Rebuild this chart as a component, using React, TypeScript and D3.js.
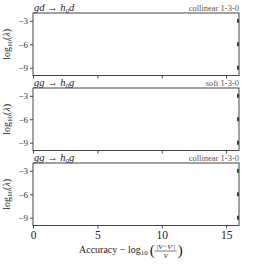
import React, { useRef, useEffect } from 'react';
import * as d3 from 'd3';

// panel titles (left: process, right: limit)
const processHead = ['gd → h', 'gg → h', 'gg → h'];
const processTail = ['d', 'g', 'g'];
const limitLabels = ['collinear 1-3-0', 'soft 1-3-0', 'collinear 1-3-0'];

// points: accuracy vs log10(lambda), same for each panel
const accuracy = [16, 16, 16];
const logLambda = [-3, -6, -9];

const xTicks = [0, 5, 10, 15];
const yTicks = [-3, -6, -9];

const App = () => {
  const svgRef = useRef<SVGSVGElement>(null);
  const width = 266;
  const height = 266;
  const margin = { left: 33, right: 27 };
  const panelTops = [13, 88, 163];
  const panelH = 62.5;
  const font = "'Liberation Serif', 'DejaVu Serif', serif";

  useEffect(() => {
    const svg = d3.select(svgRef.current);
    svg.selectAll('*').remove();

    const xScale = d3.scaleLinear().domain([0, 16]).range([margin.left, width - margin.right]);

    panelTops.forEach((top, i) => {
      const yScale = d3.scaleLinear().domain([-10, -2]).range([top + panelH, top]);
      const g = svg.append('g');

      g.append('clipPath').attr('id', `clip${i}`)
        .append('rect')
        .attr('x', margin.left).attr('y', top)
        .attr('width', width - margin.left - margin.right).attr('height', panelH);

      // markers
      g.append('g').attr('clip-path', `url(#clip${i})`)
        .selectAll('rect')
        .data(accuracy.map((a, j) => ({ a, l: logLambda[j] })))
        .join('rect')
        .attr('x', d => xScale(d.a) - 2)
        .attr('y', d => yScale(d.l) - 2)
        .attr('width', 4).attr('height', 4)
        .attr('fill', '#006400');

      // y axis
      const yAxis = d3.axisLeft(yScale).tickValues(yTicks).tickSize(3).tickPadding(2)
        .tickFormat(d => `−${Math.abs(+d)}`);
      const ya = g.append('g').attr('transform', `translate(${margin.left},0)`).call(yAxis);
      ya.select('.domain').remove();
      ya.selectAll('line').attr('stroke', '#444');
      ya.selectAll('text').attr('font-family', font).attr('font-size', 9).attr('fill', '#333');

      // x axis
      const xAxis = d3.axisBottom(xScale).tickValues(xTicks).tickSize(3).tickPadding(2)
        .tickFormat(i === 2 ? (d => `${d}`) : () => '');
      const xa = g.append('g').attr('transform', `translate(0,${top + panelH})`).call(xAxis);
      xa.select('.domain').remove();
      xa.selectAll('line').attr('stroke', '#444');
      xa.selectAll('text').attr('font-family', font).attr('font-size', 11.5).attr('fill', '#222');

      // frame
      g.append('rect')
        .attr('x', margin.left).attr('y', top)
        .attr('width', width - margin.left - margin.right).attr('height', panelH)
        .attr('fill', 'none').attr('stroke', '#444').attr('stroke-width', 1);

      // titles
      const t = g.append('text')
        .attr('x', margin.left + 1).attr('y', top - 2)
        .attr('font-family', font).attr('font-size', 10.5).attr('font-style', 'italic')
        .attr('fill', '#222');
      t.append('tspan').text(processHead[i]);
      t.append('tspan').attr('font-size', 7).attr('dy', 2).text('0');
      t.append('tspan').attr('dy', -2).text(processTail[i]);

      g.append('text')
        .attr('x', width - margin.right).attr('y', top - 2)
        .attr('text-anchor', 'end')
        .attr('font-family', font).attr('font-size', 8.5)
        .attr('fill', '#555')
        .text(limitLabels[i]);

      // y label
      const yl = g.append('text')
        .attr('transform', `translate(10,${top + panelH / 2}) rotate(-90)`)
        .attr('text-anchor', 'middle')
        .attr('font-family', font).attr('font-size', 10).attr('fill', '#222');
      yl.append('tspan').text('log');
      yl.append('tspan').attr('font-size', 7).attr('dy', 2).text('10');
      yl.append('tspan').attr('dy', -2).text('(');
      yl.append('tspan').attr('font-style', 'italic').text('λ');
      yl.append('tspan').text(')');
    });

    // x label
    const xl = svg.append('text')
      .attr('x', 79).attr('y', 253)
      .attr('font-family', font).attr('font-size', 10).attr('fill', '#222');
    xl.append('tspan').text('Accuracy − log');
    xl.append('tspan').attr('font-size', 7).attr('dy', 2).text('10');
    const textEnd = 79 + (xl.node() as SVGTextElement).getComputedTextLength();

    svg.append('text').attr('x', textEnd + 2).attr('y', 255)
      .attr('font-family', font).attr('font-size', 15).attr('fill', '#222')
      .text('(');
    const fx = textEnd + 18;
    svg.append('text').attr('x', fx).attr('y', 249)
      .attr('text-anchor', 'middle')
      .attr('font-family', font).attr('font-size', 7).attr('font-style', 'italic').attr('fill', '#222')
      .text('|V−V′|');
    svg.append('line').attr('x1', fx - 11).attr('x2', fx + 11).attr('y1', 251).attr('y2', 251)
      .attr('stroke', '#222').attr('stroke-width', 0.6);
    svg.append('text').attr('x', fx).attr('y', 257.5)
      .attr('text-anchor', 'middle')
      .attr('font-family', font).attr('font-size', 7).attr('font-style', 'italic').attr('fill', '#222')
      .text('V');
    svg.append('text').attr('x', fx + 12).attr('y', 255)
      .attr('font-family', font).attr('font-size', 15).attr('fill', '#222')
      .text(')');
  }, []);

  return (
    <svg ref={svgRef} width={width} height={height}
      style={{ position: 'absolute', left: 0, top: 0, background: '#fff' }} />
  );
};

export default App;
